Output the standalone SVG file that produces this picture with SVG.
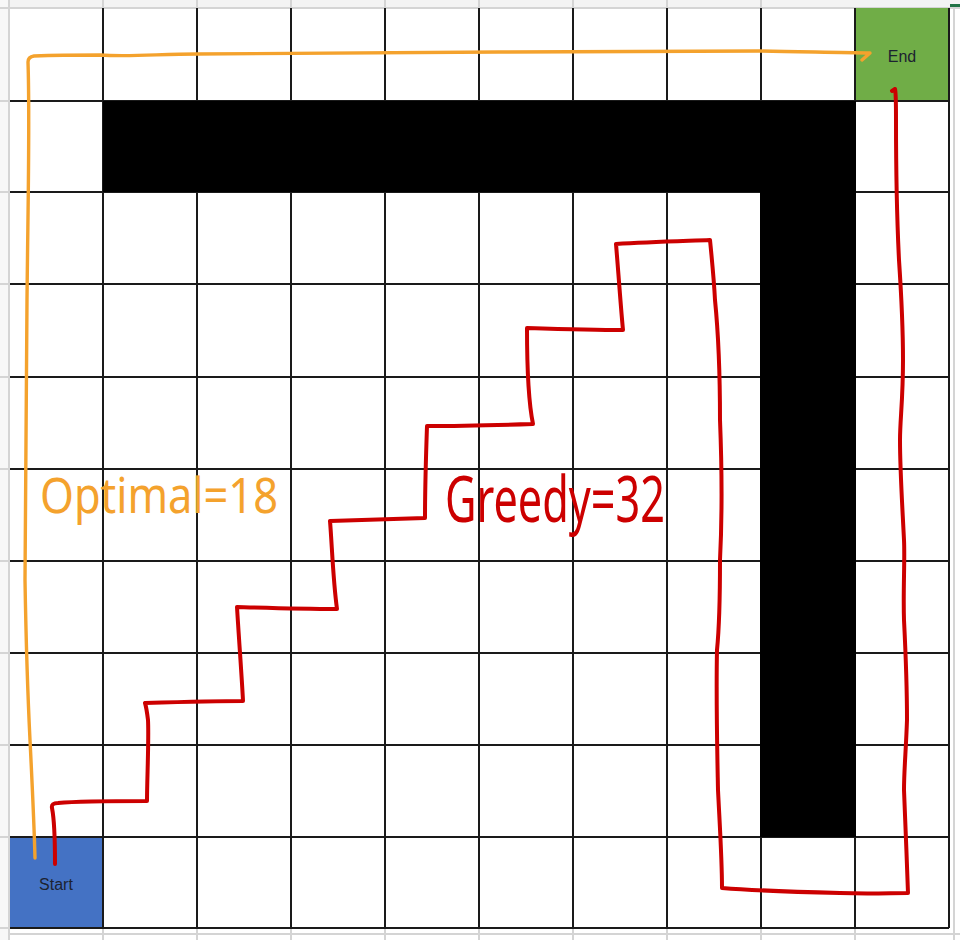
<svg xmlns="http://www.w3.org/2000/svg" width="960" height="940" viewBox="0 0 960 940">
  <defs>
    <style>
      .grid{stroke:#1a1a1a;stroke-width:2;fill:none}
      .ghost{stroke:#d4d4d4;stroke-width:2;fill:none}
      .wall{fill:#000}
      .cellText{font-family:"Liberation Sans","DejaVu Sans",sans-serif;font-size:16px;fill:#1c2230;text-anchor:middle}
      .opt{fill:none;stroke:#F4A22D;stroke-width:3.4;stroke-linecap:round;stroke-linejoin:round}
      .greedy{fill:none;stroke:#CC0000;stroke-width:4;stroke-linecap:round;stroke-linejoin:round}
      .hand{font-family:"Noto Sans","DejaVu Sans",sans-serif;font-weight:400}
    </style>
  </defs>
  <rect x="0" y="0" width="960" height="940" fill="#ffffff"/>
  <g id="sheet-edges">
    <rect x="0" y="0" width="960" height="7" fill="#f3f3f3"/>
    <rect x="0" y="0" width="8" height="940" fill="#f7f7f7"/>
    <path class="ghost" d="M0 8H960 M9 0V940 M103 0V8 M197 0V8 M291 0V8 M385 0V8 M479 0V8 M573 0V8 M667 0V8 M761 0V8 M0 101H9 M0 192H9 M0 284H9 M0 377H9 M0 469H9 M0 561H9 M0 653H9 M0 745H9 M0 837H9 M0 928H9 M954 8V940 M9 934H960 M103 928V940 M197 928V940 M291 928V940 M385 928V940 M479 928V940 M573 928V940 M667 928V940 M761 928V940 M855 928V940"/>
    <rect x="950" y="4" width="10" height="3" fill="#217346"/>
  </g>
  <g id="start">
    <rect x="10" y="837" width="93" height="91" fill="#4472C4"/>
    <text class="cellText" x="56" y="890">Start</text>
  </g>
  <g id="end">
    <rect x="855" y="8" width="94" height="93" fill="#70AD47"/>
    <text class="cellText" x="902" y="62">End</text>
  </g>
  <g id="grid">
    <path class="grid" d="M103 8V928 M197 8V928 M291 8V928 M385 8V928 M479 8V928 M573 8V928 M667 8V928 M761 8V928 M855 8V928 M949 8V928"/>
    <path class="grid" d="M10 101H949 M10 192H949 M10 284H949 M10 377H949 M10 469H949 M10 561H949 M10 653H949 M10 745H949 M10 837H949 M10 928H949"/>
  </g>
  <g id="walls">
    <rect class="wall" x="103" y="101" width="753" height="91"/>
    <rect class="wall" x="760" y="192" width="96" height="645"/>
  </g>
  <g id="connectors">
    <path id="optimal-path" class="opt" d="M35 858 C34 820 31 760 30 740 C28 700 26 640 25 580 C25 500 26 420 27 300 C28 200 30 120 28 62 Q28 57 34 56 C60 55 80 55 100 55 C130 57 160 54 197 54 C300 53 400 53 500 52 C600 52 700 51 760 51 C800 52 840 52 870 53 L862 60"/>
    <path id="greedy-path" class="greedy" d="M55 864 C55 840 54 818 52 808 Q51 803 58 803 C80 801 120 801 147 801 C147 780 149 740 148 720 C147 712 146 706 145 703 C180 702 215 701 243 701 C242 680 239 640 237 607 C270 608 300 609 337 609 C333 580 332 545 330 521 C365 520 395 519 425 518 C425 490 426 455 427 426 C460 426 500 425 533 424 C528 400 527 360 527 328 C560 329 595 330 623 330 C621 310 619 280 616 244 C650 242 685 241 710 240 C712 260 714 280 715 300 C718 330 720 380 720 420 C722 470 722 520 720 560 C720 590 720 620 717 650 C716 700 717 740 718 790 C720 830 722 860 722 888 C760 891 800 892 840 893 C870 894 890 893 908 893 C907 860 905 820 904 790 C904 770 906 750 907 720 C907 680 906 660 904 620 C903 590 905 560 904 540 C902 500 900 470 900 440 C900 420 903 400 903 360 C903 320 901 290 899 260 C897 220 896 160 896 120 C896 100 896 92 895 89 L892 91"/>
  </g>
  <g id="labels">
    <text class="hand" x="40" y="513" font-size="50" fill="#F4A22D" textLength="238" lengthAdjust="spacingAndGlyphs">Optimal=18</text>
    <text class="hand" x="445" y="522" font-size="64" fill="#CC0000" textLength="220" lengthAdjust="spacingAndGlyphs">Greedy=32</text>
  </g>
</svg>
